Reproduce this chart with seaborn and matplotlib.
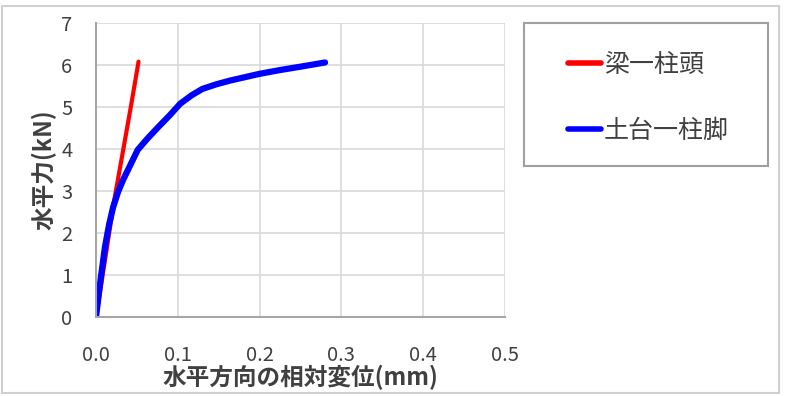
import matplotlib
matplotlib.use("Agg")
import matplotlib.pyplot as plt
import seaborn as sns
import pandas as pd
from matplotlib.patches import Rectangle
from matplotlib.lines import Line2D

# Data
red_label = "梁一柱頭"
blue_label = "土台一柱脚"
red_x = [0.0, 0.011, 0.022, 0.033, 0.043, 0.052]
red_y = [0.0, 1.35, 2.75, 3.95, 5.05, 6.08]
blue_x = [0.0, 0.006, 0.011, 0.016, 0.021, 0.027, 0.033, 0.042, 0.051, 0.063, 0.076, 0.090, 0.103, 0.117, 0.130, 0.147, 0.164, 0.182, 0.200, 0.225, 0.250, 0.280]
blue_y = [0.0, 0.95, 1.67, 2.2, 2.62, 2.98, 3.26, 3.62, 3.98, 4.25, 4.52, 4.8, 5.08, 5.28, 5.43, 5.54, 5.63, 5.71, 5.79, 5.88, 5.96, 6.06]
x_ticks = [0.0, 0.1, 0.2, 0.3, 0.4, 0.5]
y_ticks = [0, 1, 2, 3, 4, 5, 6, 7]
x_label = "水平方向の相対変位(mm)"
y_label = "水平力(kN)"

sns.set_style("white")
plt.rcParams['font.family'] = ['Noto Sans CJK JP', 'DejaVu Sans']

df = pd.concat([
    pd.DataFrame({"x": red_x, "y": red_y, "s": red_label}),
    pd.DataFrame({"x": blue_x, "y": blue_y, "s": blue_label}),
])

fig = plt.figure(figsize=(7.86, 3.96), dpi=100)
ax = fig.add_axes([96/786, 1-317/396, (505-96)/786, (317-23)/396])

sns.lineplot(data=df, x="x", y="y", hue="s", palette={red_label: "#ff0000", blue_label: "#0000ff"},
             sort=False, estimator=None, linewidth=3.5, ax=ax, legend=False)
widths = {0: 3.0, 1: 4.5}
for i, l in enumerate(ax.lines):
    l.set_solid_capstyle("round")
    l.set_solid_joinstyle("round")
    l.set_linewidth(widths.get(i, 3.5))

ax.set_xlim(0, 0.5)
ax.set_ylim(0, 7)
ax.set_xticks(x_ticks)
ax.set_xticklabels([f"{v:.1f}" for v in x_ticks])
ax.set_yticks(y_ticks)
ax.grid(True, color="#d9d9d9", linewidth=1.2)
ax.set_axisbelow(True)
for s in ["top", "right"]:
    ax.spines[s].set_visible(False)
for s in ["left", "bottom"]:
    ax.spines[s].set_color("#a6a6a6")
    ax.spines[s].set_linewidth(1.5)
ax.tick_params(axis="both", length=0, labelsize=14.5, colors="#404040")
ax.tick_params(axis="x", pad=20)
ax.tick_params(axis="y", pad=17)
ax.set_xlabel(x_label, fontsize=17, fontweight="bold", color="#404040", labelpad=-1)
ax.set_ylabel(y_label, fontsize=17, fontweight="bold", color="#404040", labelpad=3)

# legend
handles = [Line2D([], [], color="#ff0000", linewidth=4, solid_capstyle="round"),
           Line2D([], [], color="#0000ff", linewidth=4, solid_capstyle="round")]
fig.legend(handles, [red_label, blue_label], loc="upper left",
           bbox_to_anchor=(545/786, 1-29/396), frameon=False,
           prop={"size": 18}, handlelength=1.35, handletextpad=0.1, labelspacing=1.6,
           labelcolor="#404040")
fig.patches.append(Rectangle((524/786, 1-166/396), (768-524)/786, (166-23)/396,
                             transform=fig.transFigure, fill=False, edgecolor="#a0a0a0", linewidth=1.5))
fig.patches.append(Rectangle((2/786, 1-393/396), (779-2)/786, (393-6)/396,
                             transform=fig.transFigure, fill=False, edgecolor="#d0d0d0", linewidth=1.5))

fig.savefig("out.png", dpi=100)
